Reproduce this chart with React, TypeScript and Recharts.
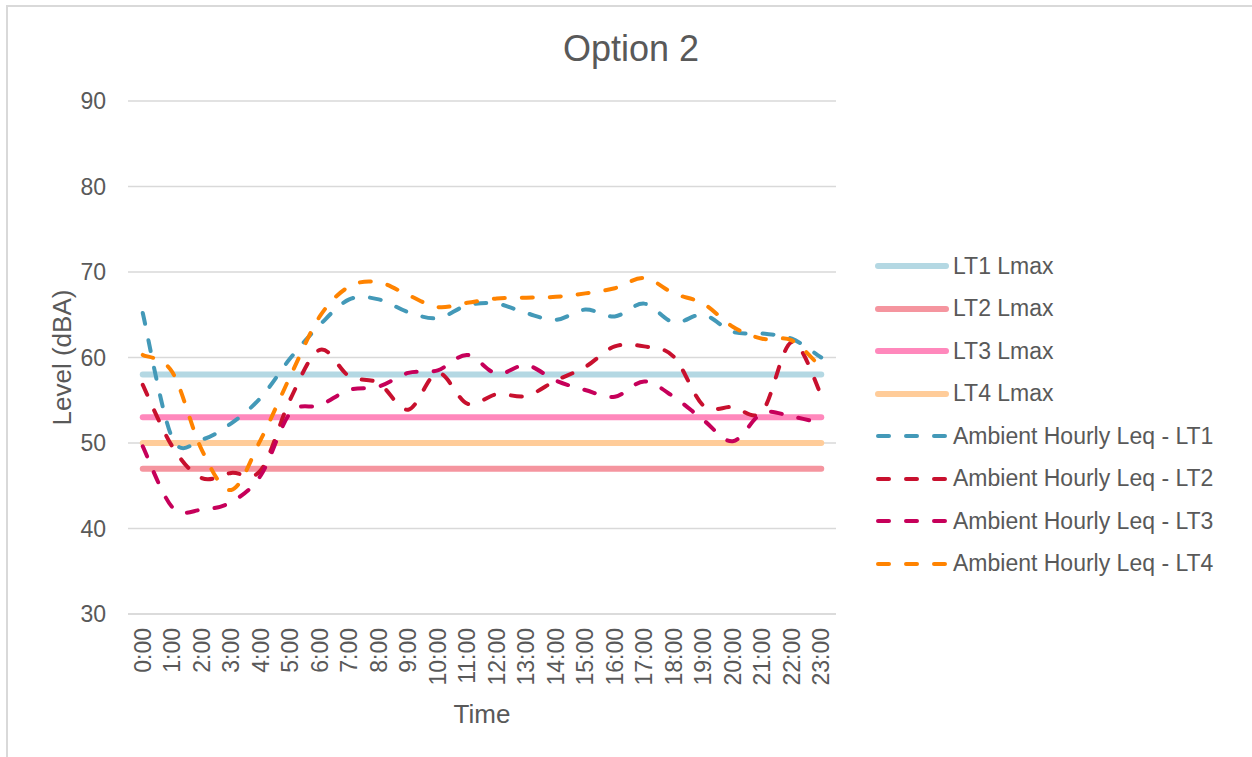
import React from 'react';
import { LineChart, Line, XAxis, YAxis, CartesianGrid } from 'recharts';

const hours = ['0:00','1:00','2:00','3:00','4:00','5:00','6:00','7:00','8:00','9:00','10:00','11:00','12:00','13:00','14:00','15:00','16:00','17:00','18:00','19:00','20:00','21:00','22:00','23:00'];

const lt1Lmax = [58,58,58,58,58,58,58,58,58,58,58,58,58,58,58,58,58,58,58,58,58,58,58,58];
const lt2Lmax = [47,47,47,47,47,47,47,47,47,47,47,47,47,47,47,47,47,47,47,47,47,47,47,47];
const lt3Lmax = [53,53,53,53,53,53,53,53,53,53,53,53,53,53,53,53,53,53,53,53,53,53,53,53];
const lt4Lmax = [50,50,50,50,50,50,50,50,50,50,50,50,50,50,50,50,50,50,50,50,50,50,50,50];

const ambLT1 = [65.2,50.6,50.4,52.3,55.3,59.9,63.8,66.8,66.8,65.3,64.6,66.1,66.3,65.2,64.4,65.6,64.8,66.3,64.1,65.0,63.0,62.8,62.2,60.0];
const ambLT2 = [56.8,49.6,45.9,46.5,46.8,55.1,60.9,57.8,57.0,53.9,58.2,54.6,55.7,55.5,57.3,58.9,61.3,61.3,60.1,54.4,54.2,53.7,61.8,55.6];
const ambLT3 = [49.6,42.5,42.2,43.1,46.2,53.5,54.4,56.2,56.6,58.2,58.5,60.3,58.1,59.1,57.3,56.2,55.4,57.2,55.4,52.7,50.2,53.5,53.1,52.3];
const ambLT4 = [60.3,58.3,49.2,44.5,50.4,57.8,64.8,68.3,68.8,67.3,65.9,66.4,66.9,67.0,67.1,67.5,68.1,69.3,67.5,66.3,63.6,62.2,62.0,58.8];

const yTicks = [30,40,50,60,70,80,90];

const data = hours.map((time, i) => ({
  time,
  lt1Lmax: lt1Lmax[i],
  lt2Lmax: lt2Lmax[i],
  lt3Lmax: lt3Lmax[i],
  lt4Lmax: lt4Lmax[i],
  ambLT1: ambLT1[i],
  ambLT2: ambLT2[i],
  ambLT3: ambLT3[i],
  ambLT4: ambLT4[i],
}));

const FONT = '"Liberation Sans", Arial, sans-serif';
const TXT = '#595959';

const series = [
  { key: 'lt1Lmax', name: 'LT1 Lmax', color: '#B4D8E3', dashed: false },
  { key: 'lt2Lmax', name: 'LT2 Lmax', color: '#F5959F', dashed: false },
  { key: 'lt3Lmax', name: 'LT3 Lmax', color: '#FF88BC', dashed: false },
  { key: 'lt4Lmax', name: 'LT4 Lmax', color: '#FFCC99', dashed: false },
  { key: 'ambLT1', name: 'Ambient Hourly Leq - LT1', color: '#4399B8', dashed: true },
  { key: 'ambLT2', name: 'Ambient Hourly Leq - LT2', color: '#C8102E', dashed: true },
  { key: 'ambLT3', name: 'Ambient Hourly Leq - LT3', color: '#C6005A', dashed: true },
  { key: 'ambLT4', name: 'Ambient Hourly Leq - LT4', color: '#FF8300', dashed: true },
];

// Excel-like smoothing curve (Catmull-Rom style Bezier)
const excelCurve: any = (context: any) => {
  let pts: number[][] = [];
  return {
    areaStart() {},
    areaEnd() {},
    lineStart() { pts = []; },
    point(x: number, y: number) { pts.push([+x, +y]); },
    lineEnd() {
      const n = pts.length;
      if (!n) return;
      context.moveTo(pts[0][0], pts[0][1]);
      for (let i = 0; i < n - 1; i++) {
        const p0 = pts[i - 1] || pts[i];
        const p1 = pts[i];
        const p2 = pts[i + 1];
        const p3 = pts[i + 2] || pts[i + 1];
        context.bezierCurveTo(
          p1[0] + (p2[0] - p0[0]) / 6, p1[1] + (p2[1] - p0[1]) / 6,
          p2[0] - (p3[0] - p1[0]) / 6, p2[1] - (p3[1] - p1[1]) / 6,
          p2[0], p2[1]
        );
      }
    },
  };
};

const XTick = (props: any) => {
  const { x, y, payload } = props;
  return (
    <text x={x} y={y} transform={`rotate(-90, ${x}, ${y})`} textAnchor="end" dominantBaseline="central"
      fill={TXT} fontSize={23} fontFamily={FONT}>
      {payload.value}
    </text>
  );
};

const LegendBox = () => (
  <div style={{ position: 'absolute', left: 875, top: 245, fontFamily: FONT }}>
    {series.map((s) => (
      <div key={s.key} style={{ display: 'flex', alignItems: 'center', height: 42.5 }}>
        <svg width={74} height={10} style={{ display: 'block' }}>
          {s.dashed ? (
            <line x1={3} y1={5} x2={71} y2={5} stroke={s.color} strokeWidth={4} strokeLinecap="round" strokeDasharray="11 17" />
          ) : (
            <line x1={3} y1={5} x2={71} y2={5} stroke={s.color} strokeWidth={6} strokeLinecap="round" />
          )}
        </svg>
        <span style={{ color: TXT, fontSize: 23, marginLeft: 4, whiteSpace: 'nowrap' }}>{s.name}</span>
      </div>
    ))}
  </div>
);

export default function App() {
  return (
    <div style={{ position: 'absolute', left: 0, top: 0, width: 1252, height: 757, overflow: 'hidden', background: '#fff' }}>
      <div style={{ position: 'absolute', left: 6, top: 5, width: 1300, height: 800, border: '2px solid #D9D9D9', boxSizing: 'border-box' }} />
      <div style={{ position: 'absolute', left: 0, top: 31, width: 1262, textAlign: 'center', fontFamily: FONT, fontSize: 36, lineHeight: '36px', color: TXT }}>
        Option 2
      </div>
      <div style={{ position: 'absolute', left: 0, top: 0 }}>
        <LineChart width={1252} height={757} data={data} margin={{ top: 101, right: 416, bottom: 0, left: 0 }}>
          <CartesianGrid vertical={false} stroke="#D9D9D9" strokeWidth={1.5} />
          <XAxis dataKey="time" interval={0} height={143} tickLine={false} tickSize={0} tickMargin={14}
            padding={{ left: 14.75, right: 14.75 }}
            axisLine={{ stroke: '#D9D9D9', strokeWidth: 1.5 }} tick={<XTick />}
            label={{ value: 'Time', position: 'insideBottom', offset: 34, fill: TXT, fontSize: 26, fontFamily: FONT }} />
          <YAxis domain={[30, 90]} ticks={yTicks} width={128} axisLine={false} tickLine={false} tickSize={0} tickMargin={22}
            tick={{ fill: TXT, fontSize: 23, fontFamily: FONT }}
            label={{ value: 'Level (dBA)', angle: -90, position: 'center', dx: -2, fill: TXT, fontSize: 26, fontFamily: FONT }} />
          {series.map((s) => (
            <Line key={s.key} dataKey={s.key} name={s.name} type={excelCurve} stroke={s.color}
              strokeWidth={s.dashed ? 4 : 6} strokeLinecap="round"
              strokeDasharray={s.dashed ? '11 17' : undefined}
              dot={false} activeDot={false} isAnimationActive={false} />
          ))}
        </LineChart>
      </div>
      <LegendBox />
    </div>
  );
}
